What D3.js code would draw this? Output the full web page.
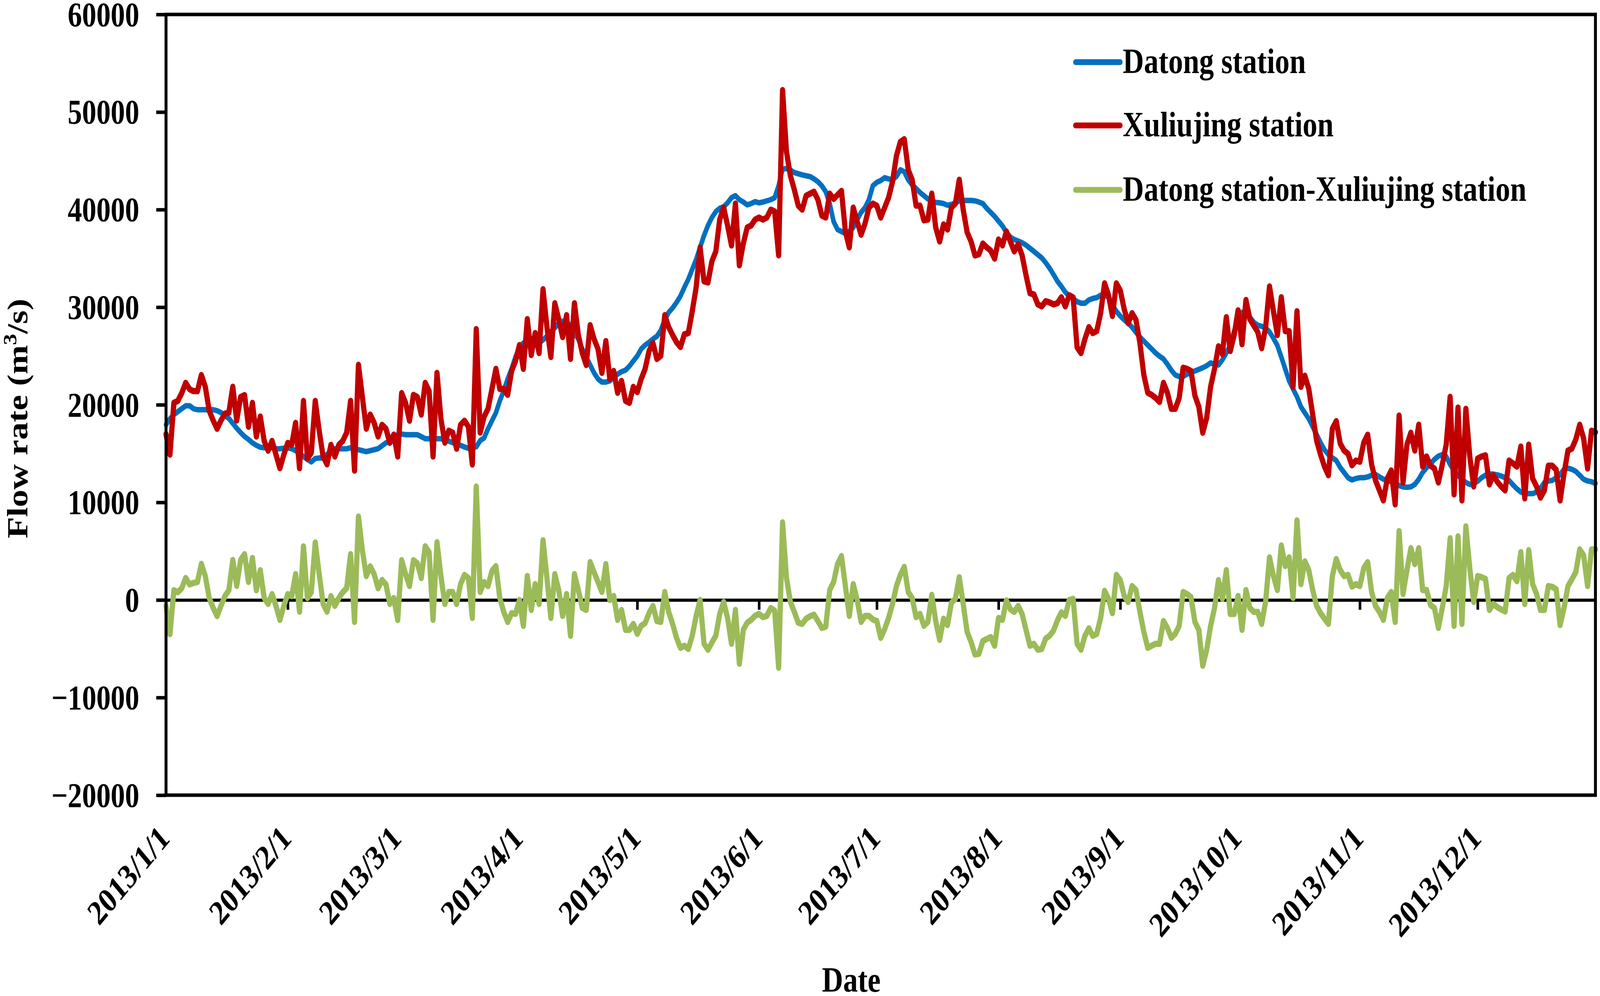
<!DOCTYPE html>
<html>
<head>
<meta charset="utf-8">
<script src="https://cdn.jsdelivr.net/npm/d3@7/dist/d3.min.js"></script>
<style>
  html, body { margin: 0; padding: 0; width: 100%; height: 100%; overflow: hidden; background: #fff; }
  #chart { display: block; width: 100vw; height: 100vh; }
  text { font-family: "Liberation Serif", "Times New Roman", serif; font-weight: bold; fill: #000; }
</style>
</head>
<body>
<svg id="chart"></svg>
<script>
//size of the picture and the plot box
let width = 4915
let height = 2549
let plotLeft = 510
let plotRight = 4901
let plotTop = 37
let plotBottom = 2035

//categories: every day of 2013, month starts for the ticks
const dates = d3.timeDay.range(new Date(2013, 0, 1), new Date(2014, 0, 1))
const monthTicks = d3.timeMonth.range(new Date(2013, 0, 1), new Date(2014, 0, 1))
const yTicks = [-20000, -10000, 0, 10000, 20000, 30000, 40000, 50000, 60000]

const seriesNames = ['Datong station', 'Xuliujing station', 'Datong station-Xuliujing station']

//Datong station daily flow (m3/s)
const datong = [
  17960, 18570, 19000, 19300, 19600, 19900, 19900, 19600, 19500, 19500,
  19500, 19500, 19500, 19400, 19200, 18900, 18600, 18100, 17600, 17150,
  16750, 16450, 16100, 15850, 15650, 15600, 15700, 15600, 15500, 15500,
  15550, 15600, 15500, 15300, 15000, 14700, 14400, 14150, 14500, 14550,
  14550, 14900, 15300, 15500, 15500, 15500, 15500, 15600, 15500, 15400,
  15300, 15200, 15300, 15400, 15500, 15800, 16100, 16300, 16750, 16950,
  17000, 16940, 16940, 16940, 16940, 16740, 16530, 16530, 16530, 16530,
  16530, 16400, 16280, 16120, 16040, 15840, 15680, 15550, 15550, 15700,
  16330, 16600, 17550, 18370, 19180, 20410, 21430, 22650, 23680, 24900,
  25920, 26330, 26330, 26330, 26330, 26330, 26650, 27020, 27470, 27880,
  28370, 28570, 28370, 28160, 27350, 26740, 25720, 24900, 24080, 23270,
  22650, 22330, 22330, 22450, 22860, 23140, 23390, 23550, 23960, 24490,
  25000, 25720, 26120, 26410, 26740, 27020, 27640, 28700, 29470, 29920,
  30490, 31150, 32040, 32860, 33880, 34900, 36130, 37350, 38370, 39190,
  39800, 40130, 40290, 40700, 41230, 41430, 41020, 40780, 40490, 40620,
  40820, 40700, 40780, 40900, 41020, 41230, 42450, 44170, 44210, 44050,
  43800, 43680, 43560, 43470, 43390, 43150, 42860, 42450, 41840, 40620,
  38780, 37960, 37760, 37550, 37760, 38170, 38980, 39720, 40210, 41020,
  42450, 42800, 42980, 43270, 43150, 43060, 43390, 44090, 43880, 43060,
  42530, 42170, 41760, 41430, 41100, 40900, 40740, 40700, 40620, 40450,
  40530, 40700, 40900, 40940, 40940, 40940, 40900, 40780, 40620, 40130,
  39720, 39310, 38820, 38330, 37680, 37190, 36940, 36780, 36610, 36370,
  36040, 35720, 35390, 35060, 34570, 34000, 33350, 32660, 32130, 31550,
  31150, 30900, 30570, 30410, 30410, 30740, 30900, 30980, 31230, 31310,
  30980, 30210, 29590, 29100, 28700, 28370, 27960, 27430, 26940, 26530,
  26120, 25720, 25310, 24980, 24700, 24160, 23550, 23060, 22900, 22900,
  23140, 23310, 23470, 23630, 23800, 24000, 24290, 24160, 24080, 24610,
  25310, 26120, 27550, 28780, 29470, 29590, 28980, 28450, 28160, 28040,
  27880, 27470, 26820, 26080, 24900, 23680, 22450, 21630, 20820, 19800,
  19180, 18570, 17760, 16940, 16120, 15390, 14900, 14570, 14290, 13590,
  13060, 12530, 12300, 12450, 12530, 12530, 12610, 12780, 12860, 12610,
  12370, 12250, 12120, 12040, 11720, 11590, 11550, 11590, 11840, 12370,
  13060, 13550, 13960, 14410, 14740, 14900, 14700, 13880, 13270, 12780,
  12370, 12040, 11840, 11920, 12160, 12530, 12780, 12900, 12900, 12820,
  12700, 12530, 12250, 11800, 11390, 11060, 10940, 10900, 10900, 11060,
  11430, 12040, 12200, 12250, 12530, 12860, 13390, 13510, 13390, 13180,
  12780, 12370, 12200, 12120, 11950
]

//Xuliujing station daily flow (m3/s)
const xuliujing = [
  17000, 14900, 20200, 20400, 21200, 22250, 21600, 21400, 21400, 23050,
  21850, 19400, 18400, 17550, 18400, 19100, 19200, 21850, 18400, 20800,
  21000, 17750, 20200, 16750, 18800, 16300, 15300, 16300, 14900, 13500,
  14900, 16100, 15900, 18150, 13500, 20400, 14500, 15100, 20400, 17350,
  14700, 13900, 15900, 14700, 15900, 16300, 17150, 20400, 13250, 24100,
  20800, 17550, 19000, 18150, 16750, 17950, 17550, 16100, 16950, 14700,
  21200, 20200, 18370, 21020, 20800, 19000, 22250, 21400, 14700, 23270,
  18570, 16120, 17350, 17150, 15500, 17950, 18370, 17750, 13880, 27760,
  17150, 18780, 19600, 21630, 23680, 21630, 21630, 21020, 23470, 24490,
  26120, 23680, 28780, 25100, 27350, 25310, 31840, 27960, 24900, 30410,
  28780, 26940, 29190, 24700, 30410, 27150, 25310, 24080, 28160, 26740,
  25720, 23270, 26530, 22650, 23470, 21230, 22450, 20410, 20200, 21840,
  21300, 22650, 23680, 25510, 26330, 24700, 25020, 29190, 27960, 27150,
  26410, 25920, 27230, 27350, 29590, 32040, 36130, 32660, 32530, 34700,
  35720, 38980, 40210, 38370, 36330, 40620, 34290, 36530, 38170, 38370,
  38980, 39190, 38980, 39190, 40000, 39800, 35310, 52250, 45920, 43470,
  42040, 40410, 40000, 41430, 41640, 41840, 41020, 39390, 39190, 41640,
  41100, 41510, 41920, 37760, 36130, 40210, 38780, 37430, 38570, 40210,
  40620, 40400, 39190, 40210, 41230, 42860, 45510, 46940, 47220, 44090,
  43060, 40410, 40410, 38900, 38980, 41640, 38170, 36740, 38490, 37960,
  40210, 40620, 43060, 40000, 37680, 36740, 35310, 35430, 36530, 36130,
  35800, 34980, 36940, 36330, 37760, 36740, 35720, 36450, 35310, 33270,
  31430, 31310, 30290, 30080, 30620, 30490, 30290, 30410, 31020, 30080,
  31230, 31000, 25900, 25300, 26740, 27960, 27350, 27550, 29390, 32450,
  31230, 29100, 32450, 31720, 29800, 28370, 29390, 28700, 26330, 23060,
  21230, 21020, 20700, 20290, 22250, 21230, 19590, 19590, 20700, 23800,
  23680, 23470, 20940, 19800, 17140, 18660, 21840, 23680, 26000, 25190,
  28980, 25510, 27150, 29680, 26210, 30740, 28780, 28120, 27470, 25800,
  27880, 32130, 29590, 27150, 31020, 27550, 27550, 21840, 29590, 21840,
  22980, 21630, 18980, 16330, 14900, 13670, 12780, 17550, 18330, 16040,
  15310, 14980, 13800, 14290, 14160, 16120, 16940, 13880, 12250, 11230,
  10200, 12450, 13270, 9800, 18900, 12040, 15920, 17140, 15310, 17960,
  13670, 14700, 13760, 13470, 12040, 13880, 15920, 20820, 10820, 19720,
  10200, 19590, 14700, 11630, 14490, 14700, 14820, 11840, 12780, 12120,
  11630, 11230, 14290, 14000, 13670, 15720, 10410, 15920, 12450, 11630,
  10490, 11230, 13760, 13760, 13350, 10200, 12940, 15310, 15510, 16450,
  17960, 16530, 13470, 17350, 17200
]

//difference series as plotted (m3/s)
const difference = [
  -600, -3500, 1000, 800, 1200, 2250, 1600, 1750, 1850, 3700,
  2450, 200, -800, -1650, -600, 400, 1000, 4100, 1450, 4100,
  4700, 1850, 4300, 1000, 3050, 200, -400, 600, -600, -2050,
  -600, 600, 400, 2650, -1200, 5500, 200, 800, 5900, 2650,
  -400, -1200, 400, -600, 200, 800, 1200, 4700, -2250, 8550,
  5100, 2450, 3450, 2650, 1200, 2050, 1600, -400, 200, -2050,
  4080, 2650, 1430, 4080, 3760, 2250, 5510, 4900, -2040, 5920,
  2450, -410, 820, 820, -410, 1630, 2570, 2250, -1840, 11630,
  820, 1840, 1430, 2980, 3470, 200, -1220, -2250, -1350, -1430,
  0, -2650, 2450, -1020, 1630, -410, 6120, 2250, -1840, 2650,
  1020, -1630, 610, -3670, 2650, 1020, -820, -1020, 3880, 2860,
  1840, 820, 3670, 0, 410, -2040, -1020, -3060, -3060, -2450,
  -3470, -2650, -2370, -1350, -610, -2160, -2250, 820, -1220, -2450,
  -3880, -4900, -4690, -5020, -3670, -1630, 0, -4490, -5100, -4370,
  -3670, -1430, -200, -1840, -4490, -1020, -6530, -3060, -2330, -2040,
  -1630, -1430, -1760, -1630, -820, -1100, -6940, 7960, 2250, -200,
  -1220, -2330, -2450, -1920, -1670, -1510, -2160, -2860, -2730, 1020,
  1840, 3670, 4490, 1430, -1630, 1630, 0, -2250, -1630, -1630,
  -2000, -2160, -3880, -2980, -1840, -410, 1430, 2570, 3390, 820,
  200, -1760, -1430, -2650, -2250, 530, -2160, -4080, -1920, -2570,
  -290, 120, 2330, -410, -3270, -4290, -5590, -5510, -4200, -4000,
  -3800, -4690, -1840, -2040, -40, -940, -1220, -610, -1430, -3060,
  -4690, -4490, -5100, -5020, -3960, -3670, -3140, -2080, -1270, -1630,
  0, 120, -4490, -5100, -3670, -2900, -3670, -3470, -1840, 940,
  120, -1350, 2570, 2040, 410, -200, 1430, 1020, -1220, -3270,
  -4900, -4690, -4490, -4490, -2160, -2860, -3880, -3470, -2650, 820,
  610, 290, -2250, -3060, -6740, -5100, -2650, -820, 2040, 120,
  3060, -1430, -1430, 410, -3060, 1020, -820, -1220, -1220, -2450,
  -200, 4370, 2450, 1020, 5590, 3470, 4370, 200, 8160, 1630,
  3960, 3060, 1020, -610, -1350, -1920, -2450, 2450, 4200, 3060,
  2450, 2570, 1370, 1630, 1430, 3270, 3880, 820, -610, -1220,
  -2040, 200, 820, -2250, 7060, 610, 3060, 5310, 3670, 5310,
  1020, 1020, -530, -820, -2860, -820, 1430, 6330, -2650, 6530,
  -2450, 7550, 3270, -200, 2450, 2330, 2160, -1020, -410, -730,
  -980, -1180, 2250, 2570, 1920, 4900, -410, 5100, 1630, 610,
  -1020, -1020, 1430, 1350, 1100, -2570, -820, 1430, 2120, 2860,
  5180, 4570, 1430, 5180, 5200
]

//styles, one per series
const lineColors = ['#0070C0', '#C00000', '#9BBB59']
const lineWidths = [14, 16, 16]

let svg = d3.select('#chart')
let xScale
let yScale

//the drawing is done in 4915 x 2549 units and stretched over the whole window
let drawCanvas = () => {
    svg.attr('viewBox', '0 0 ' + width + ' ' + height)
       .attr('preserveAspectRatio', 'none')
}

let generateScales = () => {
    xScale = d3.scaleTime()
               .domain([dates[0], dates[dates.length - 1]])
               .range([plotLeft, plotRight])

    yScale = d3.scaleLinear()
               .domain([-20000, 60000])
               .range([plotBottom, plotTop])
}

let generateAxes = () => {
    //y axis on the left, ticks pointing out
    let yAxis = d3.axisLeft(yScale)
                  .tickValues(yTicks)
                  .tickSize(30)
                  .tickPadding(52)
                  .tickFormat(d3.format('d'))

    let yg = svg.append('g')
        .attr('id', 'y-axis')
        .attr('transform', 'translate(' + plotLeft + ', 0)')
        .call(yAxis)
    yg.select('.domain').remove()
    yg.selectAll('line').attr('stroke', '#000').attr('stroke-width', 9)
    yg.selectAll('text')
      .attr('font-size', 88)
      .attr('dy', '0.33em')
      .style('font-family', '"Liberation Serif", "Times New Roman", serif')
      .style('font-weight', 'bold')

    //x axis sits on the zero line, small ticks pointing down
    let zeroAxis = d3.axisBottom(xScale)
                     .tickValues(monthTicks)
                     .tickSize(25)
                     .tickSizeOuter(0)
                     .tickFormat('')

    let zg = svg.append('g')
        .attr('id', 'x-axis')
        .attr('transform', 'translate(0, ' + yScale(0) + ')')
        .call(zeroAxis)
    zg.select('.domain').attr('stroke', '#000').attr('stroke-width', 8)
    zg.selectAll('line').attr('stroke', '#000').attr('stroke-width', 8)

    //date labels under the box, slanted
    let labelAxis = d3.axisBottom(xScale)
                      .tickValues(monthTicks)
                      .tickSize(0)
                      .tickFormat(d3.timeFormat('%Y/%-m/%-d'))

    let lg = svg.append('g')
        .attr('id', 'x-labels')
        .attr('transform', 'translate(0, ' + plotBottom + ')')
        .call(labelAxis)
    lg.select('.domain').remove()
    lg.selectAll('text')
      .attr('y', 0)
      .attr('dy', 0)
      .attr('font-size', 88)
      .attr('text-anchor', 'end')
      .attr('transform', 'translate(15, 115) rotate(-45)')
      .style('font-family', '"Liberation Serif", "Times New Roman", serif')
      .style('font-weight', 'bold')
}

let drawLines = () => {
    let allSeries = [datong, xuliujing, difference]
    let line = d3.line()
                 .x((d, i) => xScale(dates[i]))
                 .y(d => yScale(d))

    svg.append('g')
       .attr('id', 'series')
       .selectAll('path')
       .data(allSeries)
       .enter()
       .append('path')
       .attr('d', d => line(d))
       .attr('fill', 'none')
       .attr('stroke', (d, i) => lineColors[i])
       .attr('stroke-width', (d, i) => lineWidths[i])
       .attr('stroke-linejoin', 'round')
       .attr('stroke-linecap', 'round')
}

let drawFrame = () => {
    svg.append('rect')
       .attr('x', plotLeft)
       .attr('y', plotTop)
       .attr('width', plotRight - plotLeft)
       .attr('height', plotBottom - plotTop)
       .attr('fill', 'none')
       .attr('stroke', '#000')
       .attr('stroke-width', 9)
}

let drawTitles = () => {
    let yTitle = svg.append('text')
        .attr('transform', 'translate(84, 1071) rotate(-90)')
        .attr('text-anchor', 'middle')
        .attr('font-size', 90)
    yTitle.append('tspan').text('Flow rate (m')
    yTitle.append('tspan').attr('font-size', 58).attr('dy', -34).text('3')
    yTitle.append('tspan').attr('dy', 34).text('/s)')

    svg.append('text')
       .attr('x', 2615)
       .attr('y', 2538)
       .attr('text-anchor', 'middle')
       .attr('font-size', 90)
       .text('Date')
}

let drawLegend = () => {
    let rowY = [159, 321, 486]
    let legend = svg.append('g').attr('id', 'legend')
    let rows = legend.selectAll('g')
        .data(seriesNames)
        .enter()
        .append('g')
        .attr('transform', (d, i) => 'translate(3304, ' + rowY[i] + ')')

    rows.append('line')
        .attr('x1', 0)
        .attr('x2', 137)
        .attr('stroke', (d, i) => lineColors[i])
        .attr('stroke-width', 15)
        .attr('stroke-linecap', 'round')

    rows.append('text')
        .attr('x', 145)
        .attr('y', 28)
        .attr('font-size', 90)
        .text(d => d)
}

//MAIN BODY
drawCanvas()
generateScales()
generateAxes()
drawLines()
drawFrame()
drawTitles()
drawLegend()
</script>
</body>
</html>
